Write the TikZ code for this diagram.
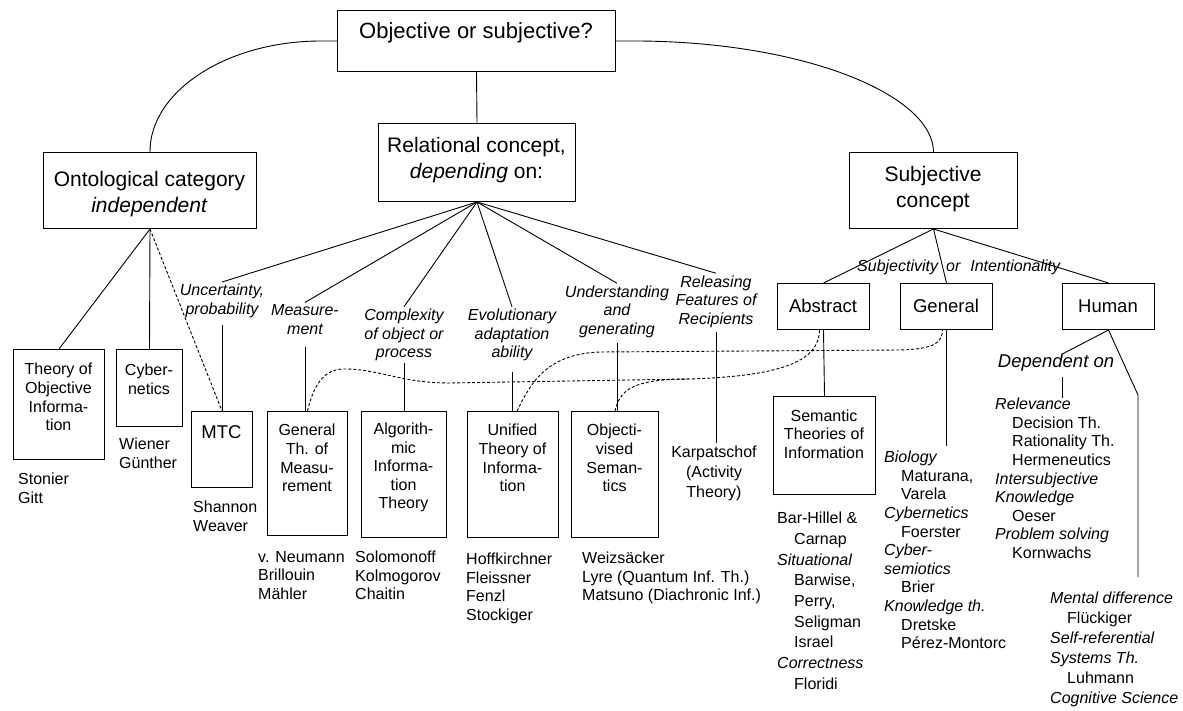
\documentclass[tikz,border=0pt]{standalone}
\usepackage{fontspec}
\setmainfont{Liberation Sans}
\newcommand\ind{\hspace*{17pt}}
\tikzset{
  box/.style={draw, line width=1pt, inner sep=0pt, anchor=north west},
  btxt/.style={align=center, font=\fontsize{16}{18.6}\selectfont, inner sep=0pt},
  bigtxt/.style={align=center, font=\fontsize{21}{26}\selectfont, inner sep=0pt},
  midtxt/.style={align=center, font=\fontsize{18.5}{22}\selectfont, inner sep=0pt},
  lab/.style={align=center, font=\fontsize{16}{18.6}\selectfont\itshape, inner sep=2pt},
  lst/.style={align=left, font=\fontsize{16}{18.6}\selectfont, inner sep=0pt, anchor=north west},
  con/.style={line width=0.9pt},
  dsh/.style={line width=0.9pt, dash pattern=on 3pt off 2pt},
}
\begin{document}
\begin{tikzpicture}[x=1pt,y=-1pt]
\useasboundingbox (0,0) rectangle (1183,711);

% top level boxes
\node[box, minimum width=278pt, minimum height=61pt] (top) at (337,10) {};
\node[font=\fontsize{22}{26}\selectfont, inner sep=0pt] (topt) at (476,33) {Objective or subjective?};
\node[box, minimum width=197pt, minimum height=78pt] (rel) at (378,123) {};
\node[bigtxt] (relt) at (476.5,160) {Relational concept,\\\textit{depending} on:};
\node[box, minimum width=213pt, minimum height=76pt] (ont) at (43,152) {};
\node[bigtxt] (ontt) at (149.5,194) {Ontological category\\\textit{independent}};
\node[box, minimum width=168pt, minimum height=76pt] (subj) at (849,152) {};
\node[bigtxt] (subjt) at (933,189) {Subjective\\concept};

% second row boxes
\node[box, minimum width=91pt, minimum height=110pt] (toi) at (13,349) {};
\node[btxt] (toit) at (58.5,397) {Theory of\\Objective\\Informa-\\tion};
\node[box, minimum width=66pt, minimum height=77pt] (cyb) at (116,349) {};
\node[btxt] (cybt) at (149,379) {Cyber-\\netics};
\node[box, minimum width=61pt, minimum height=76pt] (mtc) at (191,411) {};
\node[midtxt] (mtct) at (221.5,432) {MTC};
\node[box, minimum width=80pt, minimum height=124pt] (gtm) at (267,411) {};
\node[btxt] (gtmt) at (307,458) {General\\Th. of\\Measu-\\rement};
\node[box, minimum width=85pt, minimum height=126pt] (ait) at (361,411) {};
\node[btxt] (aitt) at (403.5,467.5) {Algorith-\\mic\\Informa-\\tion\\Theory};
\node[box, minimum width=91pt, minimum height=126pt] (uti) at (467,411) {};
\node[btxt] (utit) at (512.5,458) {Unified\\Theory of\\Informa-\\tion};
\node[box, minimum width=87pt, minimum height=126pt] (obs) at (571,411) {};
\node[btxt] (obst) at (614.5,458) {Objecti-\\vised\\Seman-\\tics};
\node[box, minimum width=92pt, minimum height=46pt] (abs) at (777,283) {};
\node[midtxt] (abst) at (823,306) {Abstract};
\node[box, minimum width=92pt, minimum height=46pt] (gen) at (900,283) {};
\node[midtxt] (gent) at (946,306) {General};
\node[box, minimum width=92pt, minimum height=46pt] (hum) at (1062,283) {};
\node[midtxt] (humt) at (1108,306) {Human};
\node[box, minimum width=102pt, minimum height=98pt] (sem) at (773,396) {};
\node[btxt] (semt) at (824,434) {Semantic\\Theories of\\Information};

% italic labels
\node[lab] (unc) at (222,301) {Uncertainty,\\probability};
\node[lab] (meas) at (305,319.5) {Measure-\\ment};
\node[lab] (comp) at (404,335) {Complexity\\of object or\\process};
\node[lab] (evol) at (512,335) {Evolutionary\\adaptation\\ability};
\node[lab] (und) at (617,311.5) {Understanding\\and\\generating};
\node[lab] (relf) at (716,301.5) {Releasing\\Features of\\Recipients};
\node[font=\fontsize{16}{18.6}\selectfont\itshape, inner sep=0pt, anchor=west] (sio) at (857,267) {Subjectivity\hspace{8pt}or\hspace{10pt}Intentionality};
\node[midtxt, font=\fontsize{18.5}{22}\selectfont\itshape] (dep) at (1056,363) {Dependent on};

% name lists
\node[lst] (stonier) at (18,473) {Stonier\\Gitt};
\node[lst] (wiener) at (119,438) {Wiener\\Günther};
\node[lst] (shannon) at (193,501) {Shannon\\Weaver};
\node[lst] (neumann) at (258,551) {v. Neumann\\Brillouin\\Mähler};
\node[lst] (solo) at (355,551) {Solomonoff\\Kolmogorov\\Chaitin};
\node[lst] (hoff) at (466,553) {Hoffkirchner\\Fleissner\\Fenzl\\Stockiger};
\node[lst] (weiz) at (582,552) {Weizsäcker\\Lyre (Quantum Inf. Th.)\\Matsuno (Diachronic Inf.)};
\node[align=center, font=\fontsize{16}{20}\selectfont, inner sep=2pt] (karp) at (714,473) {Karpatschof\\(Activity\\Theory)};
\node[lst, font=\fontsize{16}{20.7}\selectfont] (bar) at (777,512) {Bar-Hillel \&\\\ind Carnap\\\textit{Situational}\\\ind Barwise,\\\ind Perry,\\\ind Seligman\\\ind Israel\\\textit{Correctness}\\\ind Floridi};
\node[lst] (bio) at (884,451) {\textit{Biology}\\\ind Maturana,\\\ind Varela\\\textit{Cybernetics}\\\ind Foerster\\\textit{Cyber-}\\\textit{semiotics}\\\ind Brier\\\textit{Knowledge th.}\\\ind Dretske\\\ind Pérez-Montorc};
\node[lst] (relv) at (995,398) {\textit{Relevance}\\\ind Decision Th.\\\ind Rationality Th.\\\ind Hermeneutics\\\textit{Intersubjective}\\\textit{Knowledge}\\\ind Oeser\\\textit{Problem solving}\\\ind Kornwachs};
\node[lst, font=\fontsize{16}{20}\selectfont] (ment) at (1050,592) {\textit{Mental difference}\\\ind Flückiger\\\textit{Self-referential}\\\textit{Systems Th.}\\\ind Luhmann\\\textit{Cognitive Science}};

% connectors: top level
\draw[con] (top.west) -- ++(-16,0) .. controls (226,41) and (149.5,92) .. (ont.north);
\draw[con] (top.east) -- ++(22,0) .. controls (805,42) and (933,95) .. (subj.north);
\draw[con] (top.south) -- (rel.north);
\foreach \t in {unc,meas,comp,evol,und,relf} \draw[con] (rel.south) -- (\t.north);

% label to box verticals
\draw[con] ([yshift=-5pt]unc.south) -- (unc.south |- mtc.north);
\draw[con] ([yshift=-10pt]meas.south) -- (meas.south |- gtm.north);
\draw[con] (comp.south) -- (comp.south |- ait.north);
\draw[con] ([yshift=-9pt]evol.south) -- (evol.south |- uti.north);
\draw[con] ([yshift=-3.5pt]und.south) -- (und.south |- obs.north);
\draw[con] ([yshift=-2.5pt]relf.south) -- (relf.south |- karp.north);

% ontological
\draw[con] (ont.south) -- (toi.north);
\draw[con] (ont.south) -- (cyb.north);
\draw[dsh] (ont.south) -- (mtc.north);

% subjective
\draw[con] (subj.south) -- (abs.north);
\draw[con] (subj.south) -- (gen.north);
\draw[con] (subj.south) -- (hum.north);
\draw[con] (abs.south) -- (sem.north);
\draw[con, shorten >=5pt] (gen.south) -- (gen.south |- bio.north);
\draw[con] (hum.south) -- ([xshift=6pt]dep.north);
\draw[con] ([xshift=6pt,yshift=-5pt]dep.south) -- ([xshift=6pt]dep.south |- relv.north);
\coordinate (hb) at (1138,395);
\draw[con, shorten >=15pt] (hum.south) -- (hb) -- (hb |- ment.north);

% dashed relations
\coordinate (m1) at (690,379);
\draw[dsh] (gtm.north) .. controls (314,383) and (325,369) .. (344,369) .. controls (380,369) and (400,383) .. (450,383) -- (m1) .. controls (780,376) and (819,362) .. ([xshift=-4pt]abs.south);
\draw[dsh] ([xshift=4pt]uti.north) .. controls (530,385) and (545,354) .. (600,352) -- (900,350) .. controls (936,349) and (942,342) .. ([xshift=-4pt]gen.south);
\draw[dsh] (obs.north) .. controls (620,390) and (632,379) .. (m1);
\end{tikzpicture}
\end{document}
